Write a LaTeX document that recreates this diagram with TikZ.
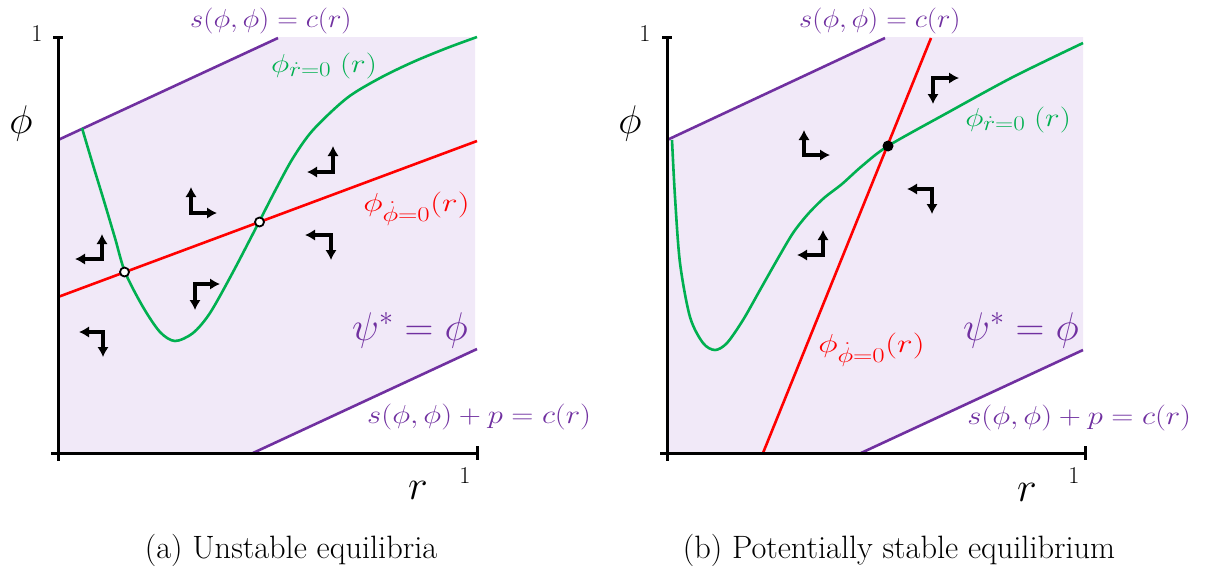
\RequirePackage{fix-cm}
\documentclass[tikz,border=0pt]{standalone}
\usetikzlibrary{arrows.meta}
\DeclareMathSizes{26}{26}{21}{16}
\definecolor{lav}{RGB}{241,233,248}
\definecolor{purp}{RGB}{112,48,160}
\definecolor{grn}{RGB}{0,176,80}
\definecolor{redc}{RGB}{255,0,0}
\tikzset{
  axisline/.style={line width=3pt},
  curve/.style={line width=2.6pt, line join=round},
  flow/.style={line width=3.1pt, {Latex[length=10pt,width=11.5pt]}-{Latex[length=10pt,width=11.5pt]}},
  mlbl/.style={font=\fontsize{26}{30}\selectfont, inner sep=0pt, anchor=base west, transform shape},
  biglbl/.style={font=\fontsize{40}{46}\selectfont, inner sep=0pt, text=purp, anchor=base west},
  axlbl/.style={font=\fontsize{40}{46}\selectfont, inner sep=0pt},
  rlbl/.style={font=\fontsize{42}{48}\selectfont, inner sep=0pt},
  onelbl/.style={font=\Huge, scale=0.97, transform shape, inner sep=0pt},
  captext/.style={font=\Huge, scale=1.30, transform shape, inner sep=0pt},
  opendot/.style={circle, draw, fill=white, line width=1.8pt, minimum size=9pt, inner sep=0pt},
  fulldot/.style={circle, fill=black, minimum size=11pt, inner sep=0pt},
}
\begin{document}
\begin{tikzpicture}[x=1pt,y=-1pt]
\useasboundingbox (0,0) rectangle (1209,571);

% ================= Panel (a) =================
\fill[lav] (58,140) -- (278,37) -- (475,37) -- (475,349) -- (253,453) -- (58,453) -- cycle;
\draw[purp, curve] (58,140) -- (278,38);
\draw[purp, curve] (253,453) -- (477,349);
\draw[redc, curve] (58,297) -- (477,141);
\draw[grn, curve] plot[smooth, tension=0.5] coordinates {(82,128) (93,165) (104,201) (115,238) (125,272) (143,307) (160,332) (175,341) (193,333) (210,313) (233,272) (259,222) (276,189) (293,158) (313,130) (347,98) (380,78) (413,62) (447,48) (477,37)};
% axes
\draw[axisline] (58,37) -- (58,461);
\draw[axisline] (53,37) -- (63,37);
\draw[axisline] (51,453) -- (477,453);
\draw[axisline] (477,446) -- (477,460);
\node[onelbl] (a1y) at (37,34) {1};
\node[onelbl] (a1x) at (465,476) {1};
\node[axlbl] (aphi) at (21,123) {$\phi$};
\node[rlbl] (ar) at (418,490) {$r$};
% equilibria
\node[opendot] (ae1) at (124.5,272) {};
\node[opendot] (ae2) at (259.5,222) {};
% flow arrows
\coordinate (ac1) at (333,172); \draw[flow] (333,146) -- (ac1) -- (307,172);
\coordinate (ac2) at (191,213); \draw[flow] (191,187) -- (ac2) -- (217,213);
\coordinate (ac3) at (102,259); \draw[flow] (102,234) -- (ac3) -- (75,259);
\coordinate (ac4) at (195,284); \draw[flow] (220,284) -- (ac4) -- (195,310);
\coordinate (ac5) at (331,235); \draw[flow] (305,235) -- (ac5) -- (331,260);
\coordinate (ac6) at (103,332); \draw[flow] (79,332) -- (ac6) -- (103,357);
% labels
\node[mlbl, text=purp, xscale=1.1] (atop) at (190,27) {$s(\phi,\phi)=c(r)$};
\node[mlbl, text=grn, xscale=1.2] (agrn) at (271,72) {$\phi_{\dot r=0}\;(r)$};
\node[mlbl, text=redc, xscale=1.28] (ared) at (363,211) {$\phi_{\dot\phi=0}(r)$};
\node[biglbl] (apsi) at (352,340) {$\psi^{*}=\phi$};
\node[mlbl, text=purp, xscale=1.18] (abot) at (367,423) {$s(\phi,\phi)+p=c(r)$};
\node[captext] (acap) at (291,550) {(a) Unstable equilibria};

% ================= Panel (b) =================
\fill[lav] (667,140) -- (885,37) -- (1083,37) -- (1083,350) -- (861,453) -- (667,453) -- cycle;
\draw[purp, curve] (667,140) -- (885,38);
\draw[purp, curve] (861,453) -- (1083,350);
\draw[redc, curve] (763,453) -- (931,38);
\draw[grn, curve] plot[smooth, tension=0.5] coordinates {(672,140) (675,197) (680,263) (690,317) (703,343) (715,350) (727,343) (743,320) (760,290) (777,260) (793,233) (808,214) (824,198) (842,184) (862,166) (888,146) (947,113) (1013,77) (1083,43)};
% axes
\draw[axisline] (667,37) -- (667,461);
\draw[axisline] (662,37) -- (672,37);
\draw[axisline] (660,453) -- (1085,453);
\draw[axisline] (1085,446) -- (1085,460);
\node[onelbl] (b1y) at (645,34) {1};
\node[onelbl] (b1x) at (1074,476) {1};
\node[axlbl] (bphi) at (630,123) {$\phi$};
\node[rlbl] (br) at (1027,492) {$r$};
% equilibrium
\node[fulldot] (be) at (888,146) {};
% flow arrows
\coordinate (bc1) at (933,78); \draw[flow] (959,78) -- (bc1) -- (933,104);
\coordinate (bc2) at (804,155); \draw[flow] (804,130) -- (bc2) -- (830,155);
\coordinate (bc3) at (932,189); \draw[flow] (907,189) -- (bc3) -- (932,214);
\coordinate (bc4) at (823,255); \draw[flow] (823,230) -- (bc4) -- (797,255);
% labels
\node[mlbl, text=purp, xscale=1.1] (btop) at (799,27) {$s(\phi,\phi)=c(r)$};
\node[mlbl, text=grn, xscale=1.2] (bgrn) at (965,126) {$\phi_{\dot r=0}\;(r)$};
\node[mlbl, text=redc, xscale=1.28] (bred) at (818,352) {$\phi_{\dot\phi=0}(r)$};
\node[biglbl] (bpsi) at (963,340) {$\psi^{*}=\phi$};
\node[mlbl, text=purp, xscale=1.18] (bbot) at (967,424) {$s(\phi,\phi)+p=c(r)$};
\node[captext] (bcap) at (899,550) {(b) Potentially stable equilibrium};
\end{tikzpicture}
\end{document}
